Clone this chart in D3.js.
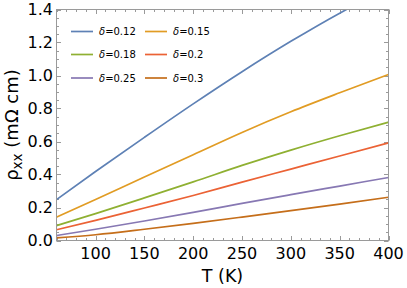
<!DOCTYPE html>
<html lang="en">
<head>
<meta charset="UTF-8" />
<script src="https://d3js.org/d3.v7.min.js"></script>
<style>
    body { margin: 0; background: #fff; }
    text { font-family: "DejaVu Sans", sans-serif; fill: #000; }
    .frame { fill: none; stroke: #9a9a9a; stroke-width: 1; }
</style>
</head>
<body>
<svg id="chart" width="407" height="288"></svg>
<script>
// values
const temps = [60, 100, 150, 200, 250, 300, 350, 400];
const tempsBlue = [60, 100, 150, 200, 250, 300, 350, 360];
const rho012 = [0.248, 0.418, 0.625, 0.828, 1.023, 1.207, 1.378, 1.41];
const rho015 = [0.141, 0.248, 0.385, 0.52, 0.655, 0.78, 0.895, 1.006];
const rho018 = [0.09, 0.163, 0.258, 0.355, 0.455, 0.548, 0.635, 0.717];
const rho020 = [0.065, 0.122, 0.197, 0.273, 0.354, 0.433, 0.512, 0.592];
const rho025 = [0.03, 0.068, 0.118, 0.17, 0.225, 0.278, 0.33, 0.382];
const rho030 = [0.016, 0.035, 0.068, 0.104, 0.142, 0.181, 0.221, 0.262];
const deltaLabels = ["0.12", "0.15", "0.18", "0.2", "0.25", "0.3"];
const colors = ["#5E81B5", "#E19C24", "#8FB032", "#EB6235", "#8778B3", "#C56E1A"];
const xTicks = [100, 150, 200, 250, 300, 350, 400];
const yTicks = [0, 0.2, 0.4, 0.6, 0.8, 1.0, 1.2, 1.4];

const series = [
    { x: tempsBlue, y: rho012 },
    { x: temps, y: rho015 },
    { x: temps, y: rho018 },
    { x: temps, y: rho020 },
    { x: temps, y: rho025 },
    { x: temps, y: rho030 }
];

const svg = d3.select("#chart");
const plotL = 56.5, plotR = 388.5, plotT = 9.5, plotB = 240.5;

const x = d3.scaleLinear().domain([60, 400]).range([plotL, plotR]);
const y = d3.scaleLinear().domain([0, 1.4]).range([plotB, plotT]);

svg.append("clipPath").attr("id", "plotclip")
    .append("rect")
    .attr("x", plotL).attr("y", plotT)
    .attr("width", plotR - plotL).attr("height", plotB - plotT);

// ticks on all four sides, pointing inward
const xMinor = d3.range(60, 401, 10);
const yMinor = d3.range(0, 1.401, 0.05);
const gray = "#9a9a9a";

function tickLines(vals, isMajor, side) {
    const len = isMajor ? 4.5 : 2.5;
    vals.forEach(v => {
        let x1, x2, y1, y2;
        if (side === "bottom" || side === "top") {
            x1 = x2 = Math.round(x(v)) + 0.5;
            y1 = side === "bottom" ? plotB : plotT;
            y2 = side === "bottom" ? plotB - len : plotT + len;
        } else {
            y1 = y2 = Math.round(y(v)) + 0.5;
            x1 = side === "left" ? plotL : plotR;
            x2 = side === "left" ? plotL + len : plotR - len;
        }
        svg.append("line")
            .attr("x1", x1).attr("x2", x2).attr("y1", y1).attr("y2", y2)
            .attr("stroke", gray).attr("stroke-width", 1);
    });
}
["bottom", "top"].forEach(s => {
    tickLines(xMinor.filter(v => v % 50 !== 0), false, s);
    tickLines(xTicks, true, s);
});
["left", "right"].forEach(s => {
    tickLines(yMinor.filter(v => Math.abs(v * 5 - Math.round(v * 5)) > 1e-6), false, s);
    tickLines(yTicks, true, s);
});

// lines
const line = d3.line().curve(d3.curveMonotoneX);
const plot = svg.append("g").attr("clip-path", "url(#plotclip)");
series.forEach((s, i) => {
    plot.append("path")
        .datum(s.x.map((t, k) => [x(t), y(s.y[k])]))
        .attr("d", line)
        .attr("fill", "none")
        .attr("stroke", colors[i])
        .attr("stroke-width", 1.7);
});

svg.append("rect").attr("class", "frame")
    .attr("x", plotL).attr("y", plotT)
    .attr("width", plotR - plotL).attr("height", plotB - plotT);

// tick labels
svg.selectAll("text.xlab").data(xTicks).join("text")
    .attr("class", "xlab")
    .attr("x", d => x(d)).attr("y", 258.5)
    .attr("text-anchor", "middle")
    .style("font-size", "16px")
    .text(d => d);

svg.selectAll("text.ylab").data(yTicks).join("text")
    .attr("class", "ylab")
    .attr("x", 53).attr("y", d => y(d) + 5.8)
    .attr("text-anchor", "end")
    .style("font-size", "16px")
    .text(d => d.toFixed(1));

// axis titles
svg.append("text")
    .attr("x", (plotL + plotR) / 2).attr("y", 282)
    .attr("text-anchor", "middle")
    .style("font-size", "17.5px")
    .text("T (K)");

const yt = svg.append("text")
    .attr("transform", `translate(17.5,${(plotT + plotB) / 2}) rotate(-90)`)
    .attr("text-anchor", "middle")
    .style("font-size", "18px");
yt.append("tspan").text("ρ");
yt.append("tspan").attr("dy", 4).style("font-size", "13.5px").text("xx");
yt.append("tspan").attr("dy", -4).text(" (mΩ cm)");

// legend, 2 columns x 3 rows
const legCols = [71, 145];
const legRows = [31.5, 54.5, 78];
deltaLabels.forEach((lab, i) => {
    const cx = legCols[i % 2], cy = legRows[Math.floor(i / 2)];
    svg.append("line")
        .attr("x1", cx).attr("x2", cx + 22)
        .attr("y1", cy).attr("y2", cy)
        .attr("stroke", colors[i]).attr("stroke-width", 1.7);
    const t = svg.append("text")
        .attr("x", cx + 28).attr("y", cy + 3.7)
        .style("font-size", "10px");
    t.append("tspan").style("font-style", "italic").text("δ");
    t.append("tspan").text("=" + lab);
});
</script>
</body>
</html>
